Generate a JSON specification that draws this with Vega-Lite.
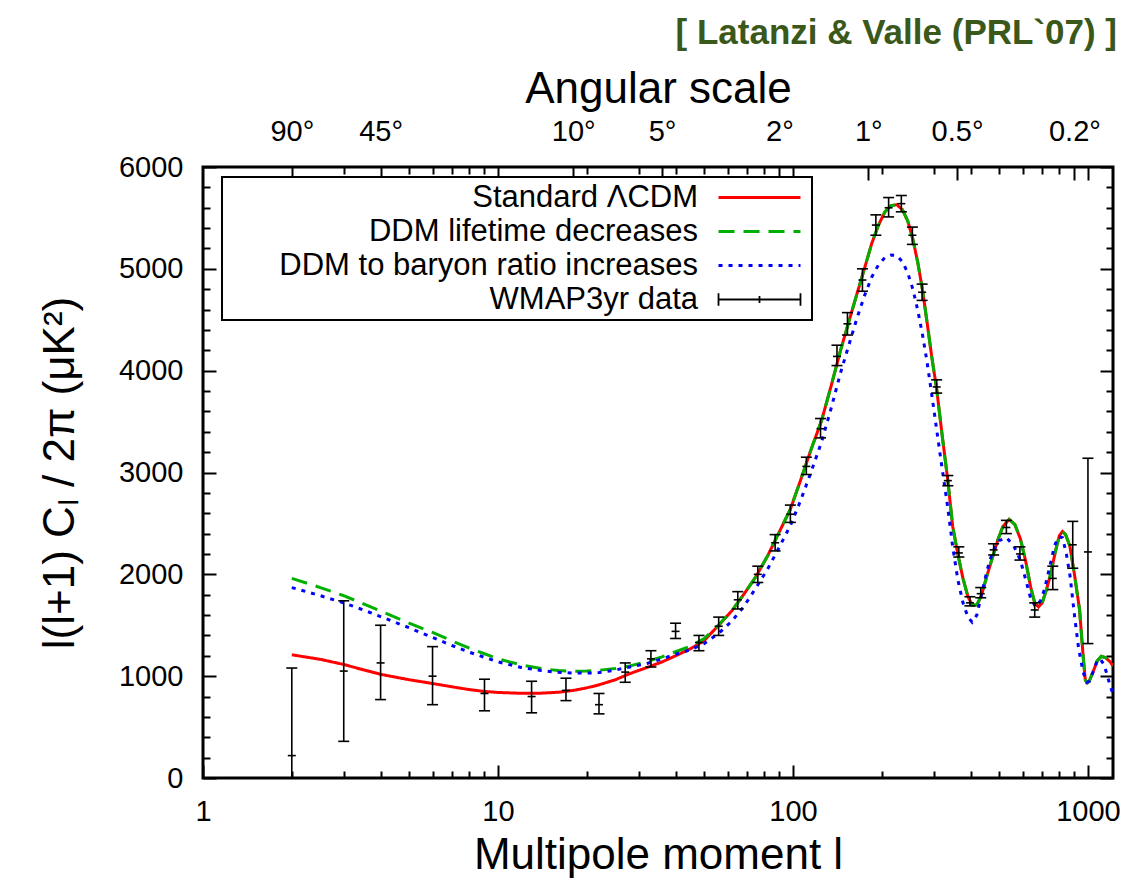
{
  "$schema": "https://vega.github.io/schema/vega-lite/v6.json",
  "width": 910,
  "height": 611,
  "autosize": {"type": "none"},
  "padding": {"left": 203, "top": 167, "right": 33, "bottom": 102},
  "background": "white",
  "title": {"text": "[ Latanzi & Valle  (PRL`07) ]", "anchor": "end", "frame": "group", "color": "#3b581b", "font": "Liberation Sans", "fontSize": 35, "fontWeight": "bold", "offset": 16, "dx": 4},
  "config": {
    "view": {"stroke": "black", "strokeWidth": 3},
    "font": "Liberation Sans",
    "axis": {"domain": false, "grid": false, "tickColor": "black", "tickWidth": 2, "labelColor": "black", "titleColor": "black", "labelFontSize": 29, "titleFontSize": 44, "titleFontWeight": "normal", "labelFont": "Liberation Sans", "titleFont": "Liberation Sans", "labelFlush": false, "labelOverlap": false, "labelBound": false}
  },
  "datasets": {
    "models": [
      {"l":2,"v":1210,"s":"Standard ΛCDM"},{"l":2.5,"v":1165,"s":"Standard ΛCDM"},{"l":3,"v":1115,"s":"Standard ΛCDM"},{"l":3.5,"v":1062,"s":"Standard ΛCDM"},{"l":4,"v":1018,"s":"Standard ΛCDM"},{"l":5,"v":965,"s":"Standard ΛCDM"},{"l":6,"v":928,"s":"Standard ΛCDM"},{"l":7,"v":895,"s":"Standard ΛCDM"},{"l":8,"v":868,"s":"Standard ΛCDM"},{"l":9,"v":850,"s":"Standard ΛCDM"},{"l":10,"v":840,"s":"Standard ΛCDM"},{"l":12,"v":832,"s":"Standard ΛCDM"},{"l":14,"v":833,"s":"Standard ΛCDM"},{"l":16,"v":842,"s":"Standard ΛCDM"},{"l":18,"v":860,"s":"Standard ΛCDM"},{"l":20,"v":885,"s":"Standard ΛCDM"},{"l":22,"v":915,"s":"Standard ΛCDM"},{"l":25,"v":965,"s":"Standard ΛCDM"},{"l":28,"v":1025,"s":"Standard ΛCDM"},{"l":32,"v":1085,"s":"Standard ΛCDM"},{"l":36,"v":1140,"s":"Standard ΛCDM"},{"l":40,"v":1200,"s":"Standard ΛCDM"},{"l":45,"v":1270,"s":"Standard ΛCDM"},{"l":50,"v":1350,"s":"Standard ΛCDM"},{"l":56,"v":1500,"s":"Standard ΛCDM"},{"l":62,"v":1640,"s":"Standard ΛCDM"},{"l":68,"v":1800,"s":"Standard ΛCDM"},{"l":75,"v":1980,"s":"Standard ΛCDM"},{"l":82,"v":2180,"s":"Standard ΛCDM"},{"l":90,"v":2420,"s":"Standard ΛCDM"},{"l":98,"v":2640,"s":"Standard ΛCDM"},{"l":106,"v":2920,"s":"Standard ΛCDM"},{"l":115,"v":3220,"s":"Standard ΛCDM"},{"l":125,"v":3510,"s":"Standard ΛCDM"},{"l":135,"v":3860,"s":"Standard ΛCDM"},{"l":145,"v":4200,"s":"Standard ΛCDM"},{"l":155,"v":4490,"s":"Standard ΛCDM"},{"l":165,"v":4760,"s":"Standard ΛCDM"},{"l":175,"v":5010,"s":"Standard ΛCDM"},{"l":185,"v":5250,"s":"Standard ΛCDM"},{"l":195,"v":5430,"s":"Standard ΛCDM"},{"l":205,"v":5560,"s":"Standard ΛCDM"},{"l":215,"v":5620,"s":"Standard ΛCDM"},{"l":225,"v":5630,"s":"Standard ΛCDM"},{"l":235,"v":5580,"s":"Standard ΛCDM"},{"l":245,"v":5470,"s":"Standard ΛCDM"},{"l":255,"v":5290,"s":"Standard ΛCDM"},{"l":265,"v":5060,"s":"Standard ΛCDM"},{"l":275,"v":4790,"s":"Standard ΛCDM"},{"l":285,"v":4470,"s":"Standard ΛCDM"},{"l":295,"v":4150,"s":"Standard ΛCDM"},{"l":307,"v":3820,"s":"Standard ΛCDM"},{"l":320,"v":3380,"s":"Standard ΛCDM"},{"l":335,"v":2920,"s":"Standard ΛCDM"},{"l":348,"v":2470,"s":"Standard ΛCDM"},{"l":362,"v":2200,"s":"Standard ΛCDM"},{"l":377,"v":1960,"s":"Standard ΛCDM"},{"l":392,"v":1780,"s":"Standard ΛCDM"},{"l":405,"v":1700,"s":"Standard ΛCDM"},{"l":420,"v":1700,"s":"Standard ΛCDM"},{"l":435,"v":1790,"s":"Standard ΛCDM"},{"l":455,"v":1990,"s":"Standard ΛCDM"},{"l":475,"v":2170,"s":"Standard ΛCDM"},{"l":495,"v":2340,"s":"Standard ΛCDM"},{"l":515,"v":2470,"s":"Standard ΛCDM"},{"l":540,"v":2540,"s":"Standard ΛCDM"},{"l":565,"v":2490,"s":"Standard ΛCDM"},{"l":590,"v":2350,"s":"Standard ΛCDM"},{"l":615,"v":2130,"s":"Standard ΛCDM"},{"l":640,"v":1870,"s":"Standard ΛCDM"},{"l":660,"v":1720,"s":"Standard ΛCDM"},{"l":680,"v":1680,"s":"Standard ΛCDM"},{"l":700,"v":1720,"s":"Standard ΛCDM"},{"l":725,"v":1860,"s":"Standard ΛCDM"},{"l":750,"v":2020,"s":"Standard ΛCDM"},{"l":775,"v":2220,"s":"Standard ΛCDM"},{"l":800,"v":2380,"s":"Standard ΛCDM"},{"l":820,"v":2420,"s":"Standard ΛCDM"},{"l":840,"v":2390,"s":"Standard ΛCDM"},{"l":868,"v":2280,"s":"Standard ΛCDM"},{"l":900,"v":2000,"s":"Standard ΛCDM"},{"l":937,"v":1650,"s":"Standard ΛCDM"},{"l":950,"v":1420,"s":"Standard ΛCDM"},{"l":965,"v":1170,"s":"Standard ΛCDM"},{"l":980,"v":960,"s":"Standard ΛCDM"},{"l":995,"v":935,"s":"Standard ΛCDM"},{"l":1010,"v":950,"s":"Standard ΛCDM"},{"l":1040,"v":1040,"s":"Standard ΛCDM"},{"l":1075,"v":1150,"s":"Standard ΛCDM"},{"l":1110,"v":1195,"s":"Standard ΛCDM"},{"l":1150,"v":1180,"s":"Standard ΛCDM"},{"l":1190,"v":1140,"s":"Standard ΛCDM"},{"l":1216,"v":1100,"s":"Standard ΛCDM"},
      {"l":2,"v":1960,"s":"DDM lifetime decreases"},{"l":2.5,"v":1870,"s":"DDM lifetime decreases"},{"l":3,"v":1790,"s":"DDM lifetime decreases"},{"l":3.5,"v":1710,"s":"DDM lifetime decreases"},{"l":4,"v":1640,"s":"DDM lifetime decreases"},{"l":5,"v":1520,"s":"DDM lifetime decreases"},{"l":6,"v":1430,"s":"DDM lifetime decreases"},{"l":7,"v":1345,"s":"DDM lifetime decreases"},{"l":8,"v":1275,"s":"DDM lifetime decreases"},{"l":9,"v":1220,"s":"DDM lifetime decreases"},{"l":10,"v":1170,"s":"DDM lifetime decreases"},{"l":12,"v":1110,"s":"DDM lifetime decreases"},{"l":14,"v":1075,"s":"DDM lifetime decreases"},{"l":16,"v":1055,"s":"DDM lifetime decreases"},{"l":18,"v":1048,"s":"DDM lifetime decreases"},{"l":20,"v":1050,"s":"DDM lifetime decreases"},{"l":22,"v":1058,"s":"DDM lifetime decreases"},{"l":25,"v":1075,"s":"DDM lifetime decreases"},{"l":28,"v":1100,"s":"DDM lifetime decreases"},{"l":32,"v":1145,"s":"DDM lifetime decreases"},{"l":36,"v":1190,"s":"DDM lifetime decreases"},{"l":40,"v":1240,"s":"DDM lifetime decreases"},{"l":45,"v":1295,"s":"DDM lifetime decreases"},{"l":50,"v":1370,"s":"DDM lifetime decreases"},{"l":56,"v":1505,"s":"DDM lifetime decreases"},{"l":62,"v":1640,"s":"DDM lifetime decreases"},{"l":68,"v":1800,"s":"DDM lifetime decreases"},{"l":75,"v":1980,"s":"DDM lifetime decreases"},{"l":82,"v":2180,"s":"DDM lifetime decreases"},{"l":90,"v":2420,"s":"DDM lifetime decreases"},{"l":98,"v":2640,"s":"DDM lifetime decreases"},{"l":106,"v":2920,"s":"DDM lifetime decreases"},{"l":115,"v":3220,"s":"DDM lifetime decreases"},{"l":125,"v":3510,"s":"DDM lifetime decreases"},{"l":135,"v":3860,"s":"DDM lifetime decreases"},{"l":145,"v":4200,"s":"DDM lifetime decreases"},{"l":155,"v":4490,"s":"DDM lifetime decreases"},{"l":165,"v":4760,"s":"DDM lifetime decreases"},{"l":175,"v":5010,"s":"DDM lifetime decreases"},{"l":185,"v":5250,"s":"DDM lifetime decreases"},{"l":195,"v":5430,"s":"DDM lifetime decreases"},{"l":205,"v":5560,"s":"DDM lifetime decreases"},{"l":215,"v":5620,"s":"DDM lifetime decreases"},{"l":225,"v":5630,"s":"DDM lifetime decreases"},{"l":235,"v":5580,"s":"DDM lifetime decreases"},{"l":245,"v":5470,"s":"DDM lifetime decreases"},{"l":255,"v":5290,"s":"DDM lifetime decreases"},{"l":265,"v":5060,"s":"DDM lifetime decreases"},{"l":275,"v":4790,"s":"DDM lifetime decreases"},{"l":285,"v":4470,"s":"DDM lifetime decreases"},{"l":295,"v":4150,"s":"DDM lifetime decreases"},{"l":307,"v":3820,"s":"DDM lifetime decreases"},{"l":320,"v":3380,"s":"DDM lifetime decreases"},{"l":335,"v":2920,"s":"DDM lifetime decreases"},{"l":348,"v":2470,"s":"DDM lifetime decreases"},{"l":362,"v":2200,"s":"DDM lifetime decreases"},{"l":377,"v":1960,"s":"DDM lifetime decreases"},{"l":392,"v":1780,"s":"DDM lifetime decreases"},{"l":405,"v":1700,"s":"DDM lifetime decreases"},{"l":420,"v":1700,"s":"DDM lifetime decreases"},{"l":435,"v":1790,"s":"DDM lifetime decreases"},{"l":455,"v":1990,"s":"DDM lifetime decreases"},{"l":475,"v":2170,"s":"DDM lifetime decreases"},{"l":495,"v":2340,"s":"DDM lifetime decreases"},{"l":515,"v":2470,"s":"DDM lifetime decreases"},{"l":540,"v":2540,"s":"DDM lifetime decreases"},{"l":565,"v":2490,"s":"DDM lifetime decreases"},{"l":590,"v":2350,"s":"DDM lifetime decreases"},{"l":615,"v":2130,"s":"DDM lifetime decreases"},{"l":640,"v":1870,"s":"DDM lifetime decreases"},{"l":660,"v":1720,"s":"DDM lifetime decreases"},{"l":680,"v":1680,"s":"DDM lifetime decreases"},{"l":700,"v":1720,"s":"DDM lifetime decreases"},{"l":725,"v":1860,"s":"DDM lifetime decreases"},{"l":750,"v":2020,"s":"DDM lifetime decreases"},{"l":775,"v":2220,"s":"DDM lifetime decreases"},{"l":800,"v":2380,"s":"DDM lifetime decreases"},{"l":820,"v":2420,"s":"DDM lifetime decreases"},{"l":840,"v":2390,"s":"DDM lifetime decreases"},{"l":868,"v":2280,"s":"DDM lifetime decreases"},{"l":900,"v":2000,"s":"DDM lifetime decreases"},{"l":937,"v":1650,"s":"DDM lifetime decreases"},{"l":950,"v":1420,"s":"DDM lifetime decreases"},{"l":965,"v":1170,"s":"DDM lifetime decreases"},{"l":980,"v":960,"s":"DDM lifetime decreases"},{"l":995,"v":935,"s":"DDM lifetime decreases"},{"l":1010,"v":950,"s":"DDM lifetime decreases"},{"l":1040,"v":1040,"s":"DDM lifetime decreases"},{"l":1075,"v":1150,"s":"DDM lifetime decreases"},{"l":1110,"v":1195,"s":"DDM lifetime decreases"},{"l":1150,"v":1180,"s":"DDM lifetime decreases"},{"l":1190,"v":1140,"s":"DDM lifetime decreases"},{"l":1216,"v":1100,"s":"DDM lifetime decreases"},
      {"l":2,"v":1870,"s":"DDM to baryon ratio increases"},{"l":2.5,"v":1790,"s":"DDM to baryon ratio increases"},{"l":3,"v":1720,"s":"DDM to baryon ratio increases"},{"l":3.5,"v":1650,"s":"DDM to baryon ratio increases"},{"l":4,"v":1585,"s":"DDM to baryon ratio increases"},{"l":5,"v":1475,"s":"DDM to baryon ratio increases"},{"l":6,"v":1380,"s":"DDM to baryon ratio increases"},{"l":7,"v":1300,"s":"DDM to baryon ratio increases"},{"l":8,"v":1235,"s":"DDM to baryon ratio increases"},{"l":9,"v":1185,"s":"DDM to baryon ratio increases"},{"l":10,"v":1140,"s":"DDM to baryon ratio increases"},{"l":12,"v":1085,"s":"DDM to baryon ratio increases"},{"l":14,"v":1055,"s":"DDM to baryon ratio increases"},{"l":16,"v":1038,"s":"DDM to baryon ratio increases"},{"l":18,"v":1030,"s":"DDM to baryon ratio increases"},{"l":20,"v":1030,"s":"DDM to baryon ratio increases"},{"l":22,"v":1035,"s":"DDM to baryon ratio increases"},{"l":25,"v":1060,"s":"DDM to baryon ratio increases"},{"l":28,"v":1090,"s":"DDM to baryon ratio increases"},{"l":32,"v":1125,"s":"DDM to baryon ratio increases"},{"l":36,"v":1170,"s":"DDM to baryon ratio increases"},{"l":40,"v":1215,"s":"DDM to baryon ratio increases"},{"l":45,"v":1260,"s":"DDM to baryon ratio increases"},{"l":50,"v":1320,"s":"DDM to baryon ratio increases"},{"l":56,"v":1420,"s":"DDM to baryon ratio increases"},{"l":62,"v":1540,"s":"DDM to baryon ratio increases"},{"l":68,"v":1680,"s":"DDM to baryon ratio increases"},{"l":75,"v":1870,"s":"DDM to baryon ratio increases"},{"l":82,"v":2050,"s":"DDM to baryon ratio increases"},{"l":90,"v":2270,"s":"DDM to baryon ratio increases"},{"l":98,"v":2480,"s":"DDM to baryon ratio increases"},{"l":106,"v":2720,"s":"DDM to baryon ratio increases"},{"l":115,"v":3000,"s":"DDM to baryon ratio increases"},{"l":125,"v":3300,"s":"DDM to baryon ratio increases"},{"l":135,"v":3640,"s":"DDM to baryon ratio increases"},{"l":145,"v":3980,"s":"DDM to baryon ratio increases"},{"l":155,"v":4260,"s":"DDM to baryon ratio increases"},{"l":165,"v":4520,"s":"DDM to baryon ratio increases"},{"l":175,"v":4740,"s":"DDM to baryon ratio increases"},{"l":185,"v":4920,"s":"DDM to baryon ratio increases"},{"l":195,"v":5040,"s":"DDM to baryon ratio increases"},{"l":205,"v":5110,"s":"DDM to baryon ratio increases"},{"l":215,"v":5135,"s":"DDM to baryon ratio increases"},{"l":225,"v":5130,"s":"DDM to baryon ratio increases"},{"l":235,"v":5070,"s":"DDM to baryon ratio increases"},{"l":245,"v":4960,"s":"DDM to baryon ratio increases"},{"l":255,"v":4800,"s":"DDM to baryon ratio increases"},{"l":265,"v":4590,"s":"DDM to baryon ratio increases"},{"l":275,"v":4350,"s":"DDM to baryon ratio increases"},{"l":285,"v":4080,"s":"DDM to baryon ratio increases"},{"l":295,"v":3780,"s":"DDM to baryon ratio increases"},{"l":307,"v":3420,"s":"DDM to baryon ratio increases"},{"l":320,"v":3050,"s":"DDM to baryon ratio increases"},{"l":335,"v":2650,"s":"DDM to baryon ratio increases"},{"l":348,"v":2270,"s":"DDM to baryon ratio increases"},{"l":362,"v":1950,"s":"DDM to baryon ratio increases"},{"l":377,"v":1720,"s":"DDM to baryon ratio increases"},{"l":392,"v":1580,"s":"DDM to baryon ratio increases"},{"l":405,"v":1530,"s":"DDM to baryon ratio increases"},{"l":420,"v":1600,"s":"DDM to baryon ratio increases"},{"l":435,"v":1790,"s":"DDM to baryon ratio increases"},{"l":455,"v":2040,"s":"DDM to baryon ratio increases"},{"l":475,"v":2220,"s":"DDM to baryon ratio increases"},{"l":500,"v":2330,"s":"DDM to baryon ratio increases"},{"l":530,"v":2360,"s":"DDM to baryon ratio increases"},{"l":560,"v":2280,"s":"DDM to baryon ratio increases"},{"l":590,"v":2140,"s":"DDM to baryon ratio increases"},{"l":615,"v":1950,"s":"DDM to baryon ratio increases"},{"l":640,"v":1760,"s":"DDM to baryon ratio increases"},{"l":665,"v":1680,"s":"DDM to baryon ratio increases"},{"l":690,"v":1740,"s":"DDM to baryon ratio increases"},{"l":712,"v":1850,"s":"DDM to baryon ratio increases"},{"l":740,"v":2060,"s":"DDM to baryon ratio increases"},{"l":770,"v":2280,"s":"DDM to baryon ratio increases"},{"l":795,"v":2370,"s":"DDM to baryon ratio increases"},{"l":820,"v":2360,"s":"DDM to baryon ratio increases"},{"l":845,"v":2200,"s":"DDM to baryon ratio increases"},{"l":870,"v":1980,"s":"DDM to baryon ratio increases"},{"l":900,"v":1600,"s":"DDM to baryon ratio increases"},{"l":930,"v":1270,"s":"DDM to baryon ratio increases"},{"l":963,"v":1040,"s":"DDM to baryon ratio increases"},{"l":990,"v":940,"s":"DDM to baryon ratio increases"},{"l":1010,"v":950,"s":"DDM to baryon ratio increases"},{"l":1040,"v":1040,"s":"DDM to baryon ratio increases"},{"l":1075,"v":1150,"s":"DDM to baryon ratio increases"},{"l":1100,"v":1170,"s":"DDM to baryon ratio increases"},{"l":1130,"v":1120,"s":"DDM to baryon ratio increases"},{"l":1160,"v":1020,"s":"DDM to baryon ratio increases"},{"l":1190,"v":900,"s":"DDM to baryon ratio increases"},{"l":1216,"v":830,"s":"DDM to baryon ratio increases"}
    ],
    "wmap": [
      {"l":2,"v":220,"lo":0,"hi":1080},{"l":3,"v":1050,"lo":360,"hi":1740},{"l":4,"v":1130,"lo":770,"hi":1500},{"l":6,"v":1000,"lo":720,"hi":1290},{"l":9,"v":830,"lo":660,"hi":970},{"l":13,"v":800,"lo":640,"hi":950},{"l":17,"v":860,"lo":760,"hi":980},{"l":22,"v":720,"lo":630,"hi":830},{"l":27,"v":1040,"lo":940,"hi":1130},{"l":33,"v":1170,"lo":1090,"hi":1250},{"l":40,"v":1440,"lo":1370,"hi":1520},{"l":48,"v":1330,"lo":1250,"hi":1400},{"l":56,"v":1490,"lo":1400,"hi":1580},{"l":65,"v":1750,"lo":1660,"hi":1830},{"l":76,"v":2000,"lo":1920,"hi":2080},{"l":87,"v":2310,"lo":2230,"hi":2390},{"l":98,"v":2590,"lo":2510,"hi":2680},{"l":111,"v":3060,"lo":2980,"hi":3150},{"l":124,"v":3430,"lo":3340,"hi":3530},{"l":141,"v":4140,"lo":4050,"hi":4250},{"l":153,"v":4460,"lo":4350,"hi":4570},{"l":172,"v":4890,"lo":4780,"hi":5000},{"l":191,"v":5430,"lo":5330,"hi":5530},{"l":211,"v":5600,"lo":5510,"hi":5700},{"l":233,"v":5640,"lo":5560,"hi":5720},{"l":254,"v":5330,"lo":5240,"hi":5410},{"l":274,"v":4770,"lo":4690,"hi":4850},{"l":307,"v":3840,"lo":3780,"hi":3910},{"l":335,"v":2920,"lo":2870,"hi":2970},{"l":365,"v":2210,"lo":2170,"hi":2270},{"l":398,"v":1720,"lo":1690,"hi":1780},{"l":433,"v":1810,"lo":1770,"hi":1870},{"l":479,"v":2240,"lo":2190,"hi":2300},{"l":529,"v":2460,"lo":2400,"hi":2530},{"l":588,"v":2200,"lo":2140,"hi":2270},{"l":660,"v":1650,"lo":1580,"hi":1720},{"l":760,"v":1960,"lo":1850,"hi":2080},{"l":888,"v":2290,"lo":2060,"hi":2520},{"l":1000,"v":2220,"lo":1320,"hi":3140}
    ]
  },
  "layer": [
    {
      "data": {"name": "models"},
      "mark": {"type": "line", "strokeWidth": 3, "clip": true},
      "encoding": {
        "x": {"field": "l", "type": "quantitative", "scale": {"type": "log", "domain": [1, 1216], "nice": false},
          "axis": {"orient": "bottom", "title": "Multipole moment l", "values": [1,2,3,4,5,6,7,8,9,10,20,30,40,50,60,70,80,90,100,200,300,400,500,600,700,800,900,1000],
            "labelExpr": "indexof([1,10,100,1000], datum.value) >= 0 ? format(datum.value, 'd') : ''",
            "tickSize": {"expr": "indexof([1,10,100,1000], datum.value) >= 0 ? -13 : -7"},
            "labelPadding": 32, "titlePadding": 1}},
        "y": {"field": "v", "type": "quantitative", "scale": {"domain": [0, 6000], "nice": false},
          "axis": {"orient": "left", "title": "l(l+1) Cₗ / 2π (μK²)", "titleFontSize": 44, "values": [0,200,400,600,800,1000,1200,1400,1600,1800,2000,2200,2400,2600,2800,3000,3200,3400,3600,3800,4000,4200,4400,4600,4800,5000,5200,5400,5600,5800,6000],
            "labelExpr": "datum.value % 1000 === 0 ? format(datum.value, 'd') : ''",
            "tickSize": {"expr": "datum.value % 1000 === 0 ? -13 : -7"},
            "labelPadding": 33, "titlePadding": 36}},
        "color": {"field": "s", "type": "nominal",
          "scale": {"domain": ["Standard ΛCDM", "DDM lifetime decreases", "DDM to baryon ratio increases", "WMAP3yr data"], "range": ["#ff0000", "#00b000", "#0000ff", "#000000"]},
          "legend": {"orient": "none", "legendX": 19, "legendY": 10, "title": null, "direction": "vertical",
            "labelFontSize": 31, "labelFont": "Liberation Sans", "labelColor": "black", "labelLimit": 800,
            "labelAlign": "right", "labelOffset": -77, "symbolOffset": 517, "labelExpr": "'      ' + datum.label",
            "symbolSize": 420, "symbolStrokeWidth": 3, "symbolType": "M-4,0L4,0", "rowPadding": 2,
            "strokeColor": "black", "fillColor": "white", "padding": 5,
            "encoding": {
              "symbols": {"shape": {"condition": {"test": "datum.value === 'WMAP3yr data'", "value": "M-4,-0.6L-4,0.6M-4,0L4,0M4,-0.6L4,0.6M0,-0.35L0,0.35"}, "value": "M-4,0L4,0"},
                "strokeWidth": {"value": {"expr": "datum.value === 'WMAP3yr data' ? 1.8 : 3"}}},
              "legend": {"strokeWidth": {"value": 2}}
            }
          }
        },
        "strokeDash": {"field": "s", "type": "nominal",
          "scale": {"domain": ["Standard ΛCDM", "DDM lifetime decreases", "DDM to baryon ratio increases", "WMAP3yr data"], "range": [[1, 0], [16, 9], [4, 6], [1, 0]]},
          "legend": {"orient": "none", "legendX": 19, "legendY": 10, "title": null, "direction": "vertical",
            "labelFontSize": 31, "labelFont": "Liberation Sans", "labelColor": "black", "labelLimit": 800,
            "labelAlign": "right", "labelOffset": -77, "symbolOffset": 517, "labelExpr": "'      ' + datum.label",
            "symbolSize": 420, "symbolStrokeWidth": 3, "symbolType": "M-4,0L4,0", "rowPadding": 2,
            "strokeColor": "black", "fillColor": "white", "padding": 5}}
      }
    },
    {
      "data": {"name": "wmap"},
      "mark": {"type": "rule", "color": "black", "strokeWidth": 1.6},
      "encoding": {
        "x": {"field": "l", "type": "quantitative",
          "axis": {"orient": "top", "title": "Angular scale", "values": [2,3,4,5,6,7,8,9,10,18,20,30,36,40,50,60,70,80,90,100,180,200,300,360,400,500,600,700,800,900,1000],
            "labelExpr": "datum.value == 2 ? '90°' : datum.value == 4 ? '45°' : datum.value == 18 ? '10°' : datum.value == 36 ? '5°' : datum.value == 90 ? '2°' : datum.value == 180 ? '1°' : datum.value == 360 ? '0.5°' : datum.value == 900 ? '0.2°' : ''",
            "tickSize": {"expr": "indexof([2,4,18,36,90,180,360,900,10,100,1000], datum.value) >= 0 ? -13 : -7"},
            "labelPadding": 34, "titlePadding": 0}},
        "y": {"field": "lo", "type": "quantitative",
          "axis": {"orient": "right", "title": null, "labels": false, "values": [0,200,400,600,800,1000,1200,1400,1600,1800,2000,2200,2400,2600,2800,3000,3200,3400,3600,3800,4000,4200,4400,4600,4800,5000,5200,5400,5600,5800,6000],
            "tickSize": {"expr": "datum.value % 1000 === 0 ? -13 : -7"}}},
        "y2": {"field": "hi"}
      }
    },
    {
      "data": {"name": "wmap"},
      "mark": {"type": "point", "shape": "M-1,0L1,0", "size": 121, "filled": false, "stroke": "black", "strokeWidth": 1.6, "opacity": 1},
      "encoding": {"x": {"field": "l", "type": "quantitative", "axis": null}, "y": {"field": "lo", "type": "quantitative", "axis": null}}
    },
    {
      "data": {"name": "wmap"},
      "mark": {"type": "point", "shape": "M-1,0L1,0", "size": 121, "filled": false, "stroke": "black", "strokeWidth": 1.6, "opacity": 1},
      "encoding": {"x": {"field": "l", "type": "quantitative", "axis": null}, "y": {"field": "hi", "type": "quantitative", "axis": null}}
    },
    {
      "data": {"name": "wmap"},
      "mark": {"type": "point", "shape": "M-1,0L1,0", "size": 64, "filled": false, "stroke": "black", "strokeWidth": 1.6, "opacity": 1},
      "encoding": {"x": {"field": "l", "type": "quantitative", "axis": null}, "y": {"field": "v", "type": "quantitative", "axis": null}}
    }
  ],
  "resolve": {"axis": {"x": "independent", "y": "independent"}}
}
